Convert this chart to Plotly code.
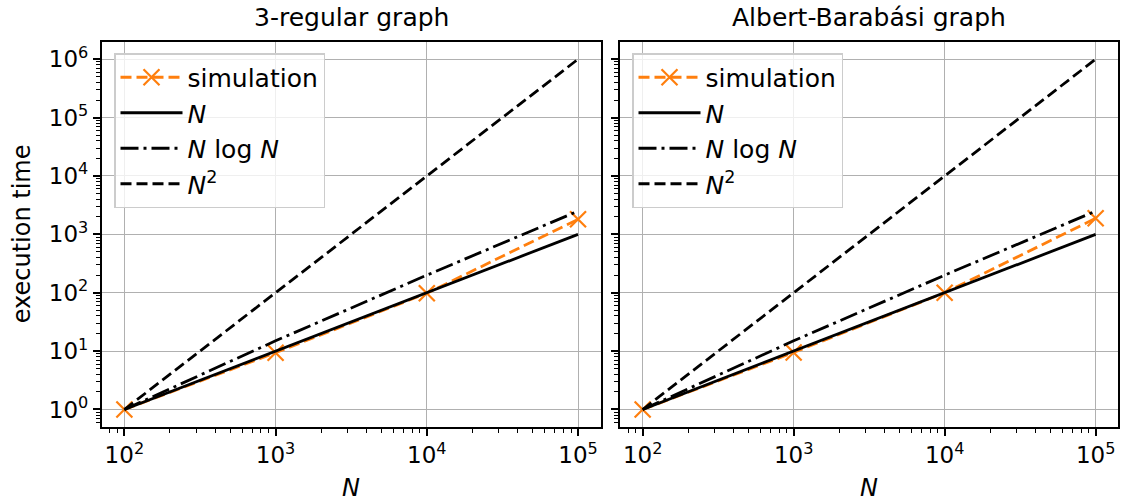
import plotly.graph_objects as go

# ---- data ----
N_values = [100, 1000, 10000, 100000]
sim_regular = [1.0, 9.4, 98, 1810]
sim_ab = [1.0, 9.5, 100, 1880]
ref_N = [1, 10, 100, 1000]
ref_NlogN = [1, 15, 200, 2500]
ref_N2 = [1, 100, 10000, 1000000]

panel_titles = ["3-regular graph", "Albert-Barabási graph"]
x_tickvals = [1e2, 1e3, 1e4, 1e5]
x_ticktext = ["10<sup>2</sup>", "10<sup>3</sup>", "10<sup>4</sup>", "10<sup>5</sup>"]
y_tickvals = [1e0, 1e1, 1e2, 1e3, 1e4, 1e5, 1e6]
y_ticktext = ["10<sup>0</sup>", "10<sup>1</sup>", "10<sup>2</sup>", "10<sup>3</sup>",
              "10<sup>4</sup>", "10<sup>5</sup>", "10<sup>6</sup>"]

W, H = 1123, 501
FONT = "DejaVu Sans"
ORANGE = "#ff7f0e"
LW = 2.8

fig = go.Figure()

panels = [("x", "y", "legend", sim_regular), ("x2", "y2", "legend2", sim_ab)]
for xa, ya, leg, sim in panels:
    fig.add_trace(go.Scatter(
        x=N_values, y=sim, mode="lines+markers", name="simulation",
        xaxis=xa, yaxis=ya, legend=leg,
        line=dict(color=ORANGE, width=LW, dash="11px,5px"),
        marker=dict(symbol="x-thin", size=16, line=dict(color=ORANGE, width=2.2)),
    ))
    fig.add_trace(go.Scatter(
        x=N_values, y=ref_N, mode="lines", name="<i>N</i>",
        xaxis=xa, yaxis=ya, legend=leg,
        line=dict(color="black", width=LW),
    ))
    fig.add_trace(go.Scatter(
        x=N_values, y=ref_NlogN, mode="lines", name="<i>N</i> log <i>N</i>",
        xaxis=xa, yaxis=ya, legend=leg,
        line=dict(color="black", width=LW, dash="18px,5px,3px,5px"),
    ))
    fig.add_trace(go.Scatter(
        x=N_values, y=ref_N2, mode="lines", name="<i>N</i><sup>2</sup>",
        xaxis=xa, yaxis=ya, legend=leg,
        line=dict(color="black", width=LW, dash="11px,5px"),
    ))

x_dom1 = [101.7 / W, 600.7 / W]
x_dom2 = [620.0 / W, 1118.3 / W]
y_dom = [(H - 427.0) / H, (H - 41.7) / H]

TICK_FONT = dict(family=FONT, size=23, color="black")

def xaxis_cfg(domain, anchor):
    return dict(
        domain=domain, anchor=anchor, type="log", range=[1.85, 5.15],
        tickmode="array", tickvals=x_tickvals, ticktext=x_ticktext,
        ticks="outside", ticklen=7, tickwidth=1.5, tickcolor="black",
        showline=True, linecolor="black", linewidth=1.5, mirror=True,
        showgrid=True, gridcolor="#b0b0b0", gridwidth=1.3,
        zeroline=False,
        tickfont=TICK_FONT,
        minor=dict(ticks="outside", ticklen=4, tickwidth=1, tickcolor="black",
                   showgrid=False, dtick="D1"),
    )

def yaxis_cfg(anchor, labels):
    return dict(
        domain=y_dom, anchor=anchor, type="log", range=[-0.3, 6.3],
        tickmode="array", tickvals=y_tickvals, ticktext=y_ticktext,
        showticklabels=labels,
        ticks="outside", ticklen=7, tickwidth=1.5, tickcolor="black",
        showline=True, linecolor="black", linewidth=1.5, mirror=True,
        showgrid=True, gridcolor="#b0b0b0", gridwidth=1.3,
        zeroline=False,
        tickfont=TICK_FONT,
        minor=dict(ticks="outside", ticklen=4, tickwidth=1, tickcolor="black",
                   showgrid=False, dtick="D1"),
    )

legend_common = dict(
    xanchor="left", yanchor="top",
    bgcolor="rgba(255,255,255,0.8)", bordercolor="#cccccc", borderwidth=1.5,
    font=dict(family=FONT, size=25, color="black"),
    tracegroupgap=0,
    itemwidth=62,
)

annotations = []
for i, t in enumerate(panel_titles):
    dom = x_dom1 if i == 0 else x_dom2
    annotations.append(dict(
        text=t, x=(dom[0] + dom[1]) / 2, y=(H - 18) / H, xref="paper", yref="paper",
        xanchor="center", yanchor="middle", showarrow=False,
        font=dict(family=FONT, size=25, color="black"),
    ))
    annotations.append(dict(
        text="<i>N</i>", x=(dom[0] + dom[1]) / 2, y=(H - 488) / H, xref="paper", yref="paper",
        xanchor="center", yanchor="middle", showarrow=False,
        font=dict(family=FONT, size=24, color="black"),
    ))
annotations.append(dict(
    text="execution time", x=22 / W, y=(y_dom[0] + y_dom[1]) / 2, xref="paper", yref="paper",
    xanchor="center", yanchor="middle", showarrow=False, textangle=-90,
    font=dict(family=FONT, size=24, color="black"),
))

fig.update_layout(
    width=W, height=H,
    margin=dict(l=0, r=0, t=0, b=0),
    paper_bgcolor="white", plot_bgcolor="white",
    font=dict(family=FONT, color="black"),
    xaxis=xaxis_cfg(x_dom1, "y"),
    yaxis=yaxis_cfg("x", True),
    xaxis2=xaxis_cfg(x_dom2, "y2"),
    yaxis2=yaxis_cfg("x2", False),
    legend=dict(x=114 / W, y=(H - 53) / H, **legend_common),
    legend2=dict(x=632 / W, y=(H - 53) / H, **legend_common),
    annotations=annotations,
    showlegend=True,
)

fig.write_html("out.html")
